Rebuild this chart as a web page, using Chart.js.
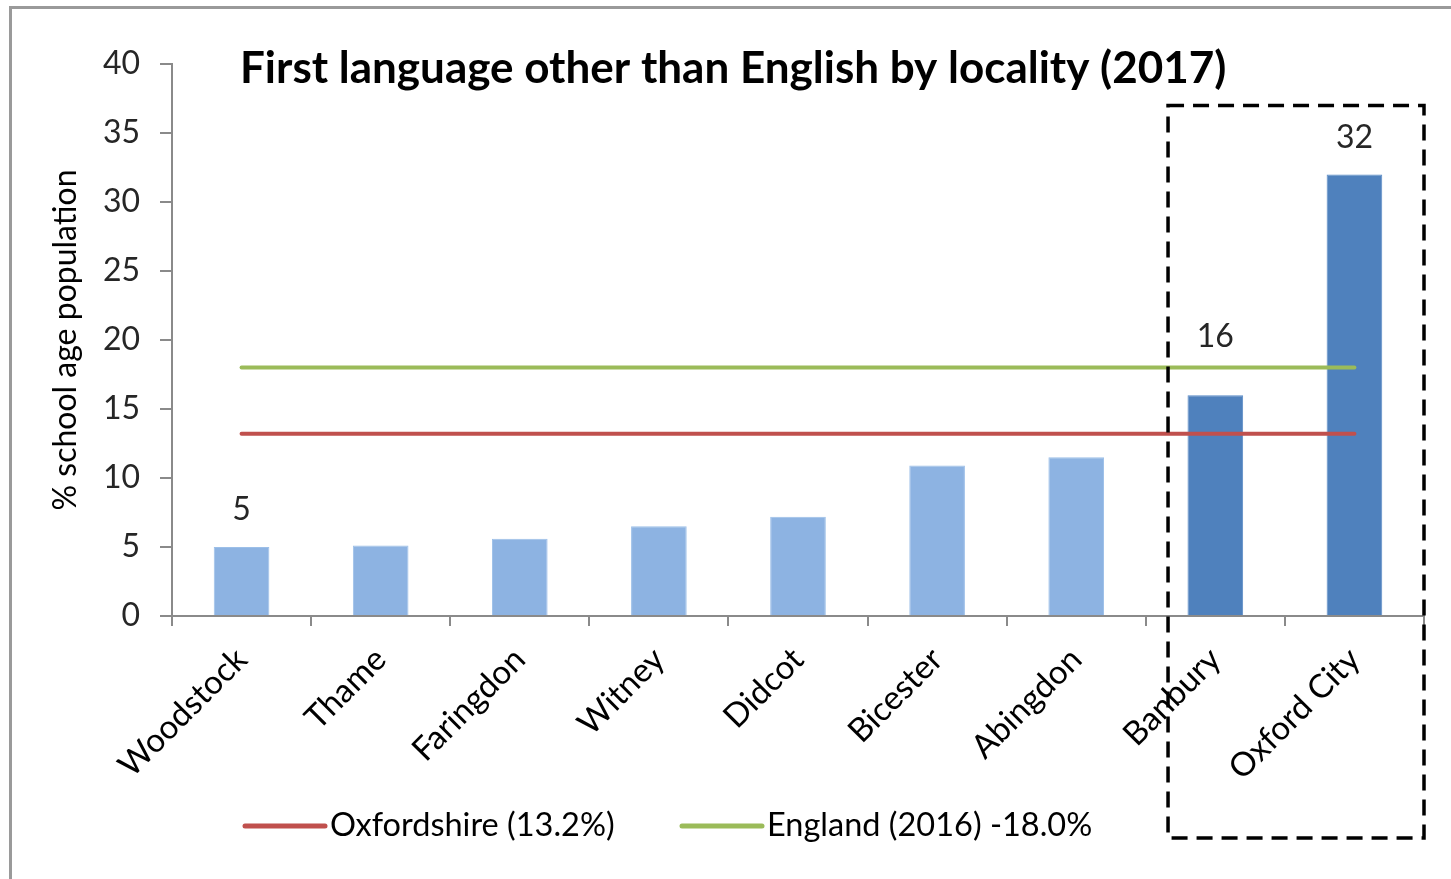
<!DOCTYPE html>
<html>
<head>
<meta charset="utf-8">
<title>First language other than English by locality (2017)</title>
<script src="https://cdn.jsdelivr.net/npm/chart.js@4.4.1/dist/chart.umd.min.js"></script>
<style>
  html, body { margin: 0; padding: 0; background: #fff; overflow: hidden; }
  #wrap { position: absolute; left: 0; top: 0; width: 1451px; height: 879px; }
  #frame { position: absolute; left: 9px; top: 6px; width: 1460px; height: 900px;
           border-left: 3px solid #9a9a9a; border-top: 3px solid #9a9a9a; pointer-events: none; }
</style>
</head>
<body>
<div id="wrap">
  <canvas id="chart" width="1451" height="879"></canvas>
  <div id="frame"></div>
</div>
<script>
  // data
  const localities = ["Woodstock", "Thame", "Faringdon", "Witney", "Didcot", "Bicester", "Abingdon", "Banbury", "Oxford City"];
  const pctFirstLang = [5.0, 5.1, 5.6, 6.5, 7.2, 10.9, 11.5, 16.0, 32.0];
  const barLabels = ["5", "", "", "", "", "", "", "16", "32"];
  const oxfordshire = [13.2, 13.2, 13.2, 13.2, 13.2, 13.2, 13.2, 13.2, 13.2];
  const england = [18.0, 18.0, 18.0, 18.0, 18.0, 18.0, 18.0, 18.0, 18.0];
  const yTicks = [0, 5, 10, 15, 20, 25, 30, 35, 40];

  const lightBlue = "#8DB3E2";
  const darkBlue = "#4F81BD";
  const FONT = "Lato, 'Open Sans', sans-serif";

  var barColors = localities.map(function (name, i) {
    return i >= 7 ? darkBlue : lightBlue;
  });

  // title, data labels, dashed box and legend
  var extras = {
    id: "extras",
    afterDatasetsDraw: function (chart) {
      var ctx = chart.ctx;
      var x = chart.scales.x;
      var y = chart.scales.y;
      var area = chart.chartArea;
      var meta = chart.getDatasetMeta(2);

      ctx.save();
      // bar value labels
      ctx.font = "32px " + FONT;
      ctx.fillStyle = "#262626";
      ctx.textAlign = "center";
      ctx.textBaseline = "middle";
      meta.data.forEach(function (bar, i) {
        if (!barLabels[i]) return;
        var lift = i === 7 ? 59 : 37;
        ctx.fillText(barLabels[i], bar.x, bar.y - lift);
      });

      // title
      ctx.font = "bold 44px " + FONT;
      ctx.fillStyle = "#000";
      ctx.textAlign = "left";
      ctx.fillText("First language other than English by locality (2017)", 240, y.getPixelForValue(40) + 5);

      // dashed box around Banbury and Oxford City
      var step = x.getPixelForValue(1) - x.getPixelForValue(0);
      var left = x.getPixelForValue(7) - step * 0.34;
      var top = y.getPixelForValue(37);
      ctx.strokeStyle = "#000";
      ctx.lineWidth = 3.5;
      ctx.setLineDash([16, 9]);
      ctx.strokeRect(left, top, area.right - left, 838 - top);
      ctx.setLineDash([]);

      // legend
      var items = [
        { text: "Oxfordshire (13.2%)", color: "#C0504D", x: 245 },
        { text: "England (2016) -18.0%", color: "#9BBB59", x: 682 }
      ];
      ctx.font = "32.5px " + FONT;
      ctx.textBaseline = "middle";
      items.forEach(function (it) {
        ctx.strokeStyle = it.color;
        ctx.lineWidth = 5;
        ctx.lineCap = "round";
        ctx.beginPath();
        ctx.moveTo(it.x, 826);
        ctx.lineTo(it.x + 80, 826);
        ctx.stroke();
        ctx.fillStyle = "#000";
        ctx.fillText(it.text, it.x + 85, 826);
      });
      ctx.restore();
    }
  };

  var ctx = document.getElementById("chart").getContext("2d");
  var chart = new Chart(ctx, {
    type: "bar",
    data: {
      labels: localities,
      datasets: [
        {
          type: "line",
          label: "Oxfordshire (13.2%)",
          data: oxfordshire,
          borderColor: "#C0504D",
          borderWidth: 4,
          borderCapStyle: "round",
          pointRadius: 0,
          order: 0,
        },
        {
          type: "line",
          label: "England (2016) -18.0%",
          data: england,
          borderColor: "#9BBB59",
          borderWidth: 4,
          borderCapStyle: "round",
          pointRadius: 0,
          order: 0,
        },
        {
          label: "% school age population",
          data: pctFirstLang,
          backgroundColor: barColors,
          borderColor: barColors.map(function (c) { return c === darkBlue ? "#5a8bc6" : "#9cbfe8"; }),
          borderWidth: 1,
          barPercentage: 0.4,
          categoryPercentage: 1.0,
          order: 1,
        },
      ],
    },
    options: {
      responsive: false,
      animation: false,
      layout: { padding: { left: 46, top: 64, right: 27, bottom: 93 } },
      plugins: {
        legend: { display: false },
        title: { display: false },
        tooltip: { enabled: false },
      },
      scales: {
        x: {
          grid: { offset: true, drawOnChartArea: false, drawTicks: true, tickLength: 10, color: "#8a8a8a", lineWidth: 2 },
          border: { color: "#8a8a8a", width: 2 },
          ticks: {
            minRotation: 45,
            maxRotation: 45,
            padding: 14,
            color: "#000",
            font: { family: FONT, size: 33 },
          },
          afterFit: function (scale) { scale.height = 170; },
        },
        y: {
          min: 0,
          max: 40,
          afterBuildTicks: function (scale) {
            scale.ticks = yTicks.map(function (v) { return { value: v }; });
          },
          grid: { drawOnChartArea: false, drawTicks: true, tickLength: 12, color: "#8a8a8a", lineWidth: 2 },
          border: { color: "#8a8a8a", width: 2 },
          ticks: {
            padding: 20,
            color: "#262626",
            font: { family: FONT, size: 32 },
          },
          title: {
            display: true,
            text: "% school age population",
            color: "#000",
            font: { family: FONT, size: 32 },
            padding: { top: 0, bottom: 0 },
          },
          afterFit: function (scale) { scale.width = 126; },
        },
      },
    },
    plugins: [extras],
  });
</script>
</body>
</html>
